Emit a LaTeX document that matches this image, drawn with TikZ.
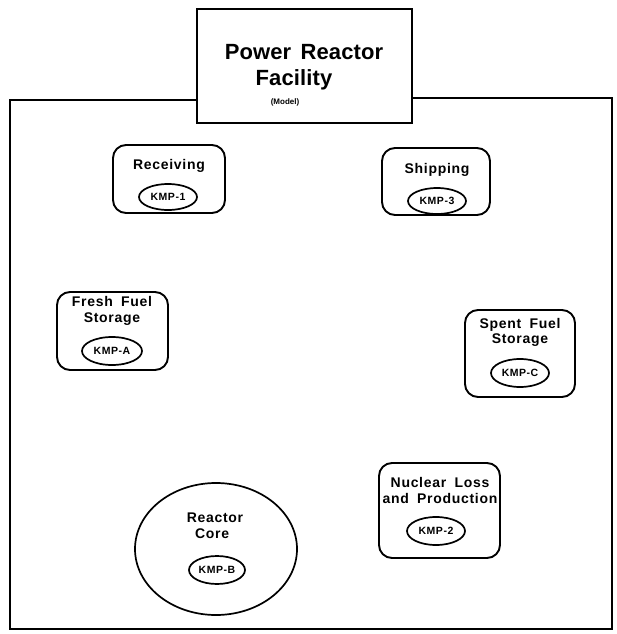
\documentclass[tikz,border=0pt]{standalone}
\usepackage{fontspec}
\setmainfont{Liberation Sans}
\newfontfamily\lblfont[LetterSpace=5,WordSpace=1.8]{Liberation Sans}
\newfontfamily\titlefont[LetterSpace=0.5,WordSpace=1.5]{Liberation Sans}
\usetikzlibrary{shapes.geometric}

\begin{document}
\begin{tikzpicture}[x=1pt,y=-1pt,
  areabox/.style={draw,line width=1.9pt,rounded corners=13pt,inner sep=0pt},
  kmp/.style={ellipse,draw,line width=1.7pt,inner sep=0pt,minimum width=58pt,minimum height=26pt,font=\lblfont\bfseries\fontsize{10.5}{12}\selectfont},
  lbl/.style={align=center,font=\lblfont\bfseries\fontsize{14}{16}\selectfont}]
\useasboundingbox (0,0) rectangle (616,634);

% outer frame and title box
\node[draw,line width=2.4pt,minimum width=215pt,minimum height=114pt,inner sep=0pt] (title) at (304.5,66) {};
\draw[line width=1.9pt] (title.west |- 0,100) -| (10,629) -| (612,98) -- (title.east |- 0,98);
\node[font=\titlefont\bfseries\fontsize{22}{24}\selectfont] (tline1) at (304,52) {Power Reactor};
\node[font=\titlefont\bfseries\fontsize{22}{24}\selectfont] (tline2) at (294,80) {Facility};
\node[font=\bfseries\fontsize{8}{9}\selectfont] (model) at (285,102) {(Model)};

% receiving
\node[areabox,minimum width=112pt,minimum height=68pt] (recv) at (169,179) {};
\node[lbl] (recvlbl) at (169,166) {Receiving};
\node[kmp] (kmp1) at (168,197) {KMP-1};

% shipping
\node[areabox,minimum width=108pt,minimum height=67pt] (ship) at (436,181.5) {};
\node[lbl] (shiplbl) at (437,170) {Shipping};
\node[kmp] (kmp3) at (437,201) {KMP-3};

% fresh fuel storage
\node[areabox,minimum width=111pt,minimum height=78pt] (fresh) at (112.5,331) {};
\node[lbl] (freshlbl) at (112,311) {Fresh Fuel\\Storage};
\node[kmp,minimum width=60pt,minimum height=28pt] (kmpa) at (112,351) {KMP-A};

% spent fuel storage
\node[areabox,minimum width=110pt,minimum height=87pt] (spent) at (520,353.5) {};
\node[lbl] (spentlbl) at (520,332) {Spent Fuel\\[-1pt]Storage};
\node[kmp,minimum height=28pt] (kmpc) at (520,373) {KMP-C};

% nuclear loss and production
\node[areabox,minimum width=121pt,minimum height=95pt] (loss) at (439.5,510.5) {};
\node[lbl] (losslbl) at (440,490) {Nuclear Loss\\and Production};
\node[kmp,minimum height=28pt] (kmp2) at (436,531) {KMP-2};

% reactor core
\node[ellipse,draw,line width=1.7pt,minimum width=162pt,minimum height=132pt] (core) at (216,549) {};
\node[lbl,align=left] (corelbl) at (215,526) {Reactor\\\ Core};
\node[kmp,minimum width=56pt,minimum height=28pt] (kmpb) at (217,570) {KMP-B};
\end{tikzpicture}
\end{document}
